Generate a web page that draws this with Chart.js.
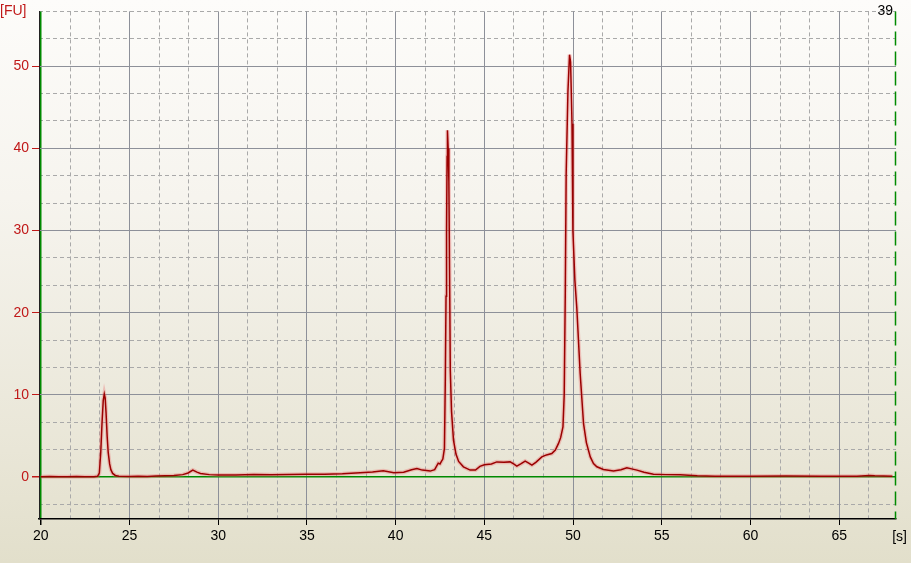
<!DOCTYPE html>
<html>
<head>
<meta charset="utf-8">
<script src="https://cdn.jsdelivr.net/npm/chart.js@4"></script>
<style>
  html, body { margin: 0; padding: 0; }
  body { width: 911px; height: 563px; overflow: hidden; }
  #trace {
    display: block;
    background: linear-gradient(to bottom, #fdfcfa 0%, #f6f4ee 35%, #e9e6d7 80%, #e2dfcb 100%);
  }
</style>
</head>
<body>
<canvas id="trace" width="911" height="563"></canvas>
<script>
// migration time [s]
const times = [
  20.0, 20.5, 21.0, 21.5, 22.0, 22.5, 23.0, 23.2, 23.3, 23.38, 23.45, 23.52, 23.58, 23.63,
  23.68, 23.74, 23.8, 23.88, 23.95, 24.05, 24.2, 24.4, 25.0, 25.5, 26.0, 26.5, 27.0, 27.5,
  28.0, 28.3, 28.57, 28.8, 29.0, 29.5, 30.0, 31.0, 32.0, 33.0, 34.0, 35.0, 36.0, 37.0,
  38.0, 38.7, 39.3, 39.9, 40.45, 40.9, 41.2, 41.5, 41.95, 42.2, 42.4, 42.5, 42.58, 42.66,
  42.75, 42.8, 42.84, 42.87, 42.9, 42.92, 42.96, 43.0, 43.05, 43.08, 43.15, 43.26, 43.4,
  43.55, 43.82, 44.2, 44.5, 44.75, 45.0, 45.4, 45.7, 46.1, 46.45, 46.65, 46.83, 47.05,
  47.3, 47.5, 47.68, 47.9, 48.24, 48.5, 48.8, 49.0, 49.18, 49.3, 49.43, 49.5, 49.56,
  49.61, 49.71, 49.8, 49.86, 49.94, 49.99, 50.1, 50.21, 50.4, 50.59, 50.75, 50.97, 51.15,
  51.34, 51.71, 52.28, 52.7, 53.03, 53.3, 53.6, 54.0, 54.53, 55.2, 56.04, 56.5, 57.0,
  58.0, 60.0, 62.0, 64.0, 66.0, 66.7, 67.0, 67.5, 68.0
];
// fluorescence [FU]
const fu = [
  0.05, 0.08, 0.03, 0.05, 0.08, 0.05, 0.05, 0.1, 0.5, 3.0, 6.5, 9.3, 10.1, 9.6,
  7.8, 5.0, 3.0, 1.6, 0.9, 0.45, 0.2, 0.1, 0.08, 0.1, 0.08, 0.12, 0.15, 0.2,
  0.3, 0.5, 0.85, 0.6, 0.45, 0.3, 0.25, 0.25, 0.32, 0.3, 0.33, 0.35, 0.35, 0.4,
  0.52, 0.62, 0.77, 0.52, 0.6, 0.9, 1.05, 0.85, 0.73, 0.9, 1.7, 1.6, 1.9, 2.2,
  3.5, 12, 22, 30, 39, 42.2, 40, 36, 22, 13, 8, 4.5, 2.8,
  1.9, 1.25, 0.85, 0.85, 1.3, 1.5, 1.6, 1.85, 1.8, 1.85, 1.6, 1.33, 1.6,
  1.94, 1.7, 1.45, 1.8, 2.46, 2.7, 2.86, 3.3, 4.1, 4.8, 6.1, 10, 22.2,
  36.8, 46.9, 51.4, 50.5, 43, 30, 24, 20.6, 12.6, 6.5, 4.2, 2.46, 1.65,
  1.25, 0.93, 0.73, 0.9, 1.13, 1.0, 0.85, 0.6, 0.36, 0.3, 0.28, 0.22, 0.15,
  0.1, 0.1, 0.12, 0.1, 0.1, 0.2, 0.15, 0.12, 0.1
];

const xTicks = [20, 25, 30, 35, 40, 45, 50, 55, 60, 65];
const yTicks = [0, 10, 20, 30, 40, 50];
const sampleLabel = '39';

const xMin = 19.9, xMax = 68.2;
const yMin = -5.1, yMax = 56.67;

// dashed minor lines: two between each pair of major lines
function thirds(major, lo, hi) {
  const step = (major[1] - major[0]) / 3;
  const out = [];
  for (let v = major[0] - 3 * step; v <= hi + 1e-6; v += step) {
    if (v < lo) continue;
    const k = Math.round((v - major[0]) / step);
    if (k % 3 !== 0) out.push({ value: v });
  }
  return out;
}

const points = times.map((t, i) => ({ x: t, y: fu[i] }));
const green = '#008a00';
const font = { family: 'Liberation Sans, Arial, sans-serif', size: 14 };

const decorations = {
  id: 'decorations',
  afterDraw(chart) {
    const { ctx, chartArea: a } = chart;
    ctx.save();
    // right-hand green marker
    ctx.strokeStyle = green;
    ctx.lineWidth = 1.5;
    ctx.setLineDash([14, 6]);
    ctx.beginPath();
    ctx.moveTo(a.right - 0.5, a.top);
    ctx.lineTo(a.right - 0.5, a.bottom);
    ctx.stroke();
    ctx.setLineDash([]);

    ctx.font = '14px Liberation Sans, Arial, sans-serif';
    ctx.textBaseline = 'middle';
    ctx.fillStyle = '#c01818';
    ctx.textAlign = 'left';
    ctx.fillText('[FU]', 0, 11);
    ctx.fillStyle = '#000';
    ctx.textAlign = 'right';
    ctx.fillText(sampleLabel, 893, 11);
    ctx.fillText('[s]', 907, 537);
    ctx.restore();
  }
};

new Chart(document.getElementById('trace'), {
  type: 'line',
  data: {
    datasets: [
      {
        data: points,
        borderColor: '#9a0000',
        borderWidth: 1.5,
        pointRadius: 0,
        tension: 0,
        fill: false
      },
      {
        data: points,
        borderColor: 'rgba(235, 110, 110, 0.35)',
        borderWidth: 4,
        pointRadius: 0,
        tension: 0,
        fill: false
      }
    ]
  },
  options: {
    responsive: false,
    animation: false,
    events: [],
    layout: { padding: { top: 9, right: 15, left: 0, bottom: 0 } },
    plugins: { legend: { display: false }, tooltip: { enabled: false } },
    scales: {
      x2: {
        type: 'linear', position: 'bottom', min: xMin, max: xMax,
        afterBuildTicks: s => { s.ticks = thirds(xTicks, xMin, xMax); },
        afterFit: s => { s.height = 0; },
        ticks: { display: false },
        border: { display: false, dash: [4, 3] },
        grid: { color: '#a9a9a9', drawTicks: false }
      },
      y2: {
        type: 'linear', position: 'left', min: yMin, max: yMax,
        afterBuildTicks: s => { s.ticks = thirds(yTicks, yMin, yMax); },
        afterFit: s => { s.width = 0; },
        ticks: { display: false },
        border: { display: false, dash: [4, 3] },
        grid: { color: '#a9a9a9', drawTicks: false }
      },
      x: {
        type: 'linear', position: 'bottom', min: xMin, max: xMax,
        afterBuildTicks: s => { s.ticks = xTicks.map(v => ({ value: v })); },
        afterFit: s => { s.height = 44; },
        ticks: { color: '#000', font, padding: 3, maxRotation: 0 },
        border: { color: '#000', width: 1.5 },
        grid: {
          color: c => c.tick && c.tick.value === 20 ? green : '#8d9099',
          lineWidth: c => c.tick && c.tick.value === 20 ? 1.5 : 1,
          tickColor: '#000',
          tickLength: 6
        }
      },
      y: {
        type: 'linear', position: 'left', min: yMin, max: yMax,
        afterBuildTicks: s => { s.ticks = yTicks.map(v => ({ value: v })); },
        afterFit: s => { s.width = 39; },
        ticks: { color: '#c01818', font, padding: 3 },
        border: { color: '#222', width: 1 },
        grid: {
          color: c => c.tick && c.tick.value === 0 ? green : '#8d9099',
          lineWidth: c => c.tick && c.tick.value === 0 ? 1.5 : 1,
          tickColor: '#c01818',
          tickLength: 7
        }
      }
    }
  },
  plugins: [decorations]
});
</script>
</body>
</html>
